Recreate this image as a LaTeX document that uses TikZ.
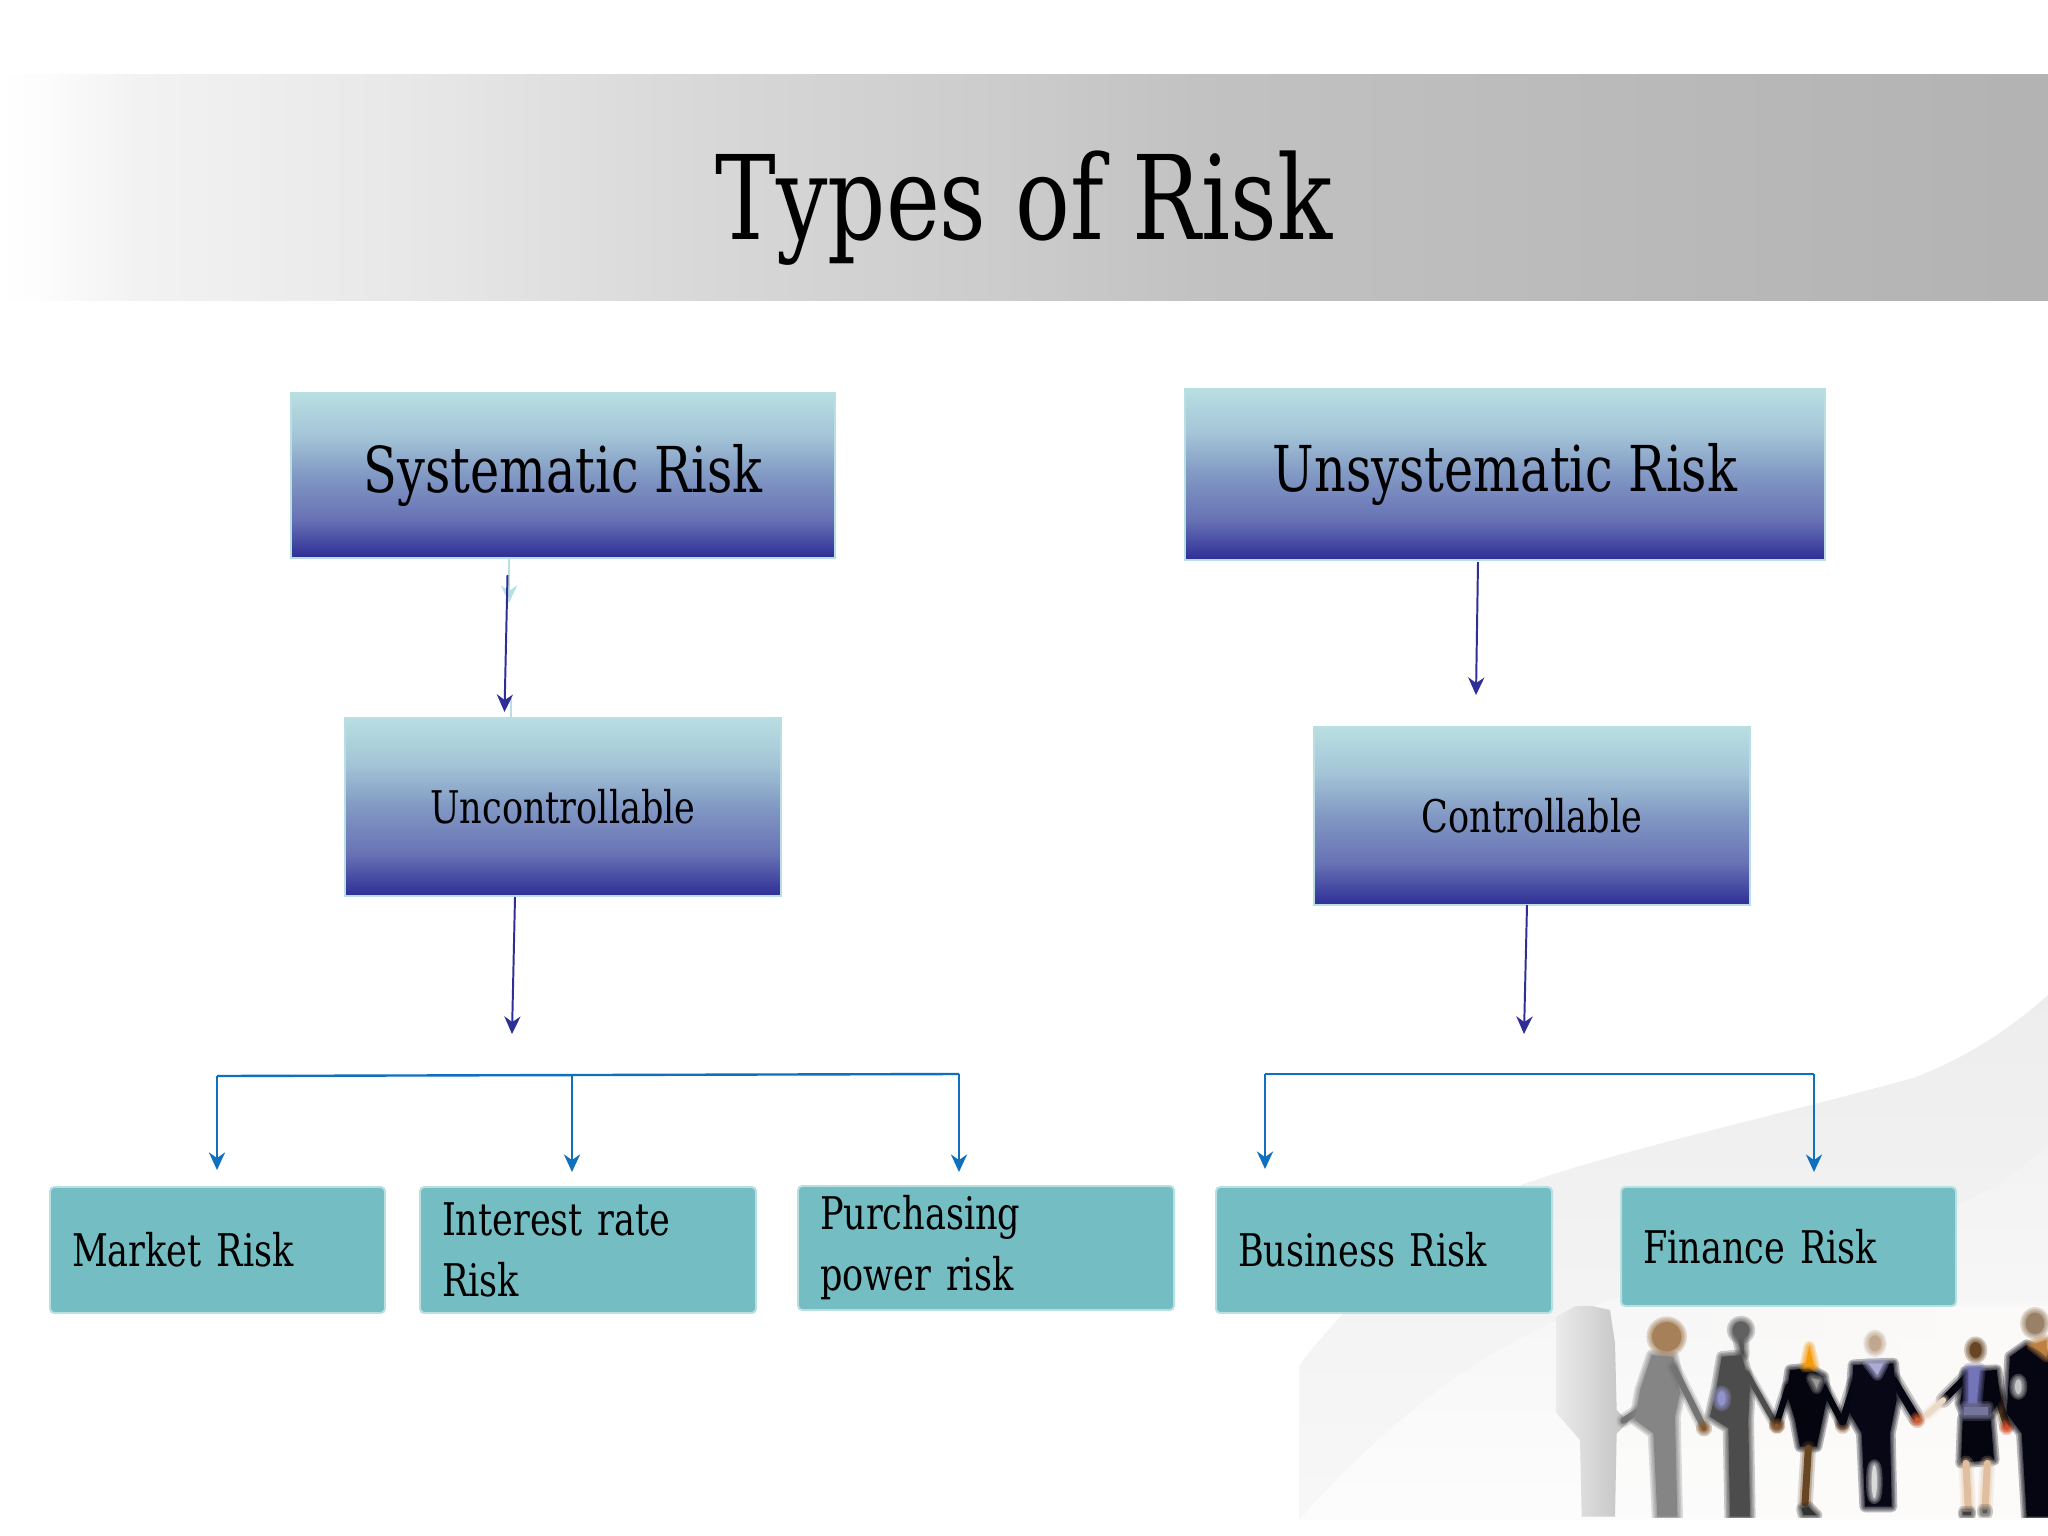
\documentclass[tikz,border=0pt]{standalone}
\usepackage{fontspec}
\setmainfont{DejaVu Serif}[FakeStretch=0.78]
\usetikzlibrary{arrows.meta,fadings}
\definecolor{navy}{HTML}{2E2E96}
\definecolor{busblue}{HTML}{1070BE}
\definecolor{paleedge}{HTML}{B8DFE2}
\definecolor{tealfill}{HTML}{74BDC3}
\pgfdeclarehorizontalshading{bandshade}{100bp}{
 color(0bp)=(white); color(25bp)=(white); color(26bp)=(white!99!black);
 color(28.3bp)=(white!95!black); color(34.8bp)=(white!91!black);
 color(41.7bp)=(white!85!black); color(49.4bp)=(white!80!black);
 color(54.3bp)=(white!76!black); color(64bp)=(white!73!black); color(75bp)=(white!70!black); color(100bp)=(white!70!black)}
\pgfdeclareverticalshading{boxshade}{100bp}{
 color(0bp)=(navy); color(25bp)=(navy); color(37bp)=(navy!70!paleedge!90!white); color(50bp)=(navy!40!paleedge);
 color(62bp)=(navy!15!paleedge); color(75bp)=(paleedge); color(100bp)=(paleedge)}
\tikzset{
 x=0.05cm,y=-0.05cm,
 bigbox/.style={shade,shading=boxshade,draw=paleedge,line width=2.8pt,inner sep=0pt,align=center},
 smallbox/.style={fill=tealfill,draw=paleedge,line width=2.8pt,rounded corners=6pt,inner sep=0pt,
   font=\fontsize{64}{87}\selectfont,align=left},
 navyarrow/.style={draw=navy,line width=2.8pt,-{Stealth[length=25pt,width=23pt,inset=8pt]}},
 palearrow/.style={draw=paleedge,line width=2.8pt,-{Stealth[length=25pt,width=23pt,inset=8pt]}},
 paleline/.style={draw=paleedge,line width=2.8pt},
 bluearrow/.style={draw=busblue,line width=2.8pt,-{Stealth[length=25pt,width=23pt,inset=8pt]}},
 bluebus/.style={draw=busblue,line width=3.4pt},
}
\newcommand{\softshape}[2]{%
 \foreach \w in {16,11,7,3}{\path[draw=#1,line width=\w pt,draw opacity=0.28,line join=round,line cap=round] #2;}%
 \path[fill=#1] #2;}
\newcommand{\softline}[3]{%
 \foreach \w/\o in {2.2/0.2,1.6/0.3,1/1}{\path[draw=#1,line width=\w*#3 pt,draw opacity=\o,line cap=round,line join=round] #2;}}
\begin{document}
\begin{tikzpicture}
\useasboundingbox (0,0) rectangle (2048,1536);
\fill[white] (0,0) rectangle (2048,1536);
% swooshes
\shade[top color=white!93!black,bottom color=white!97!black]
 (1299,1519) -- (1299,1366) .. controls (1340,1310) and (1440,1210) .. (1521,1185)
 .. controls (1620,1150) and (1760,1120) .. (1913,1078) .. controls (1975,1055) and (2020,1020) .. (2048,995)
 -- (2048,1519) -- cycle;
\shade[top color=white!95!black,bottom color=white!99!black]
 (1300,1519) .. controls (1380,1430) and (1480,1340) .. (1622,1296)
 .. controls (1750,1270) and (1950,1240) .. (2048,1145) -- (2048,1519) -- cycle;
% photograph
\begin{scope}
\clip (1556,1306) rectangle (2048,1517);
\fill[white!97!brown,path fading=east,fading transform={rotate=180}] (1600,1306) rectangle (2048,1517);
\begin{scope}[shift={(1560,1300)},x=0.05cm/3,y=-0.05cm/3]
\shade[left color=white!92!black,right color=white!76!black]
 (-10,50) -- (60,10) -- (150,30) -- (165,130) -- (170,330) -- (205,365) -- (170,400) -- (165,650) -- (65,650) -- (60,420) -- (-10,340) -- cycle;
% person 1
\softline{white!45!black}{(240,330) -- (190,362)}{9}
\softshape{white!52!black}{(275,165) -- (340,170) -- (360,280) -- (345,350) -- (352,650) -- (292,650) -- (280,400) -- (225,360) -- (240,270) -- cycle}
\softline{white!45!black}{(340,200) -- (428,375)}{9}
\softshape{brown!60!gray}{(320,110) circle (44)}
\softshape{brown!70!black}{(432,385) circle (8)}
% person 2
\softshape{white!35!black}{(543,160) -- (530,100) -- (550,90) -- (552,165) -- cycle}
\softshape{white!30!black}{(485,170) -- (545,165) -- (570,260) -- (565,360) -- (570,650) -- (510,650) -- (505,385) -- (450,350) -- (470,260) -- cycle}
\softline{white!30!black}{(560,220) -- (640,360)}{8}
\softshape{white!38!black}{(543,90) circle (26)}
\softshape{white!62!blue!60!gray}{(485,295) ellipse (12 and 22)}
\softshape{brown!70!black}{(652,375) circle (8)}
% person 3
\softline{navy!10!black}{(685,260) -- (650,370)}{9}
\softline{navy!10!black}{(790,260) -- (848,370)}{9}
\softshape{navy!10!black}{(690,210) -- (745,205) -- (790,230) -- (800,300) -- (770,440) -- (720,440) -- (705,360) -- (680,280) -- cycle}
\softshape{white!60!black}{(755,235) -- (780,240) -- (770,265) -- cycle}
\softshape{orange!75!yellow!85!brown}{(735,200) -- (748,140) -- (762,200) -- cycle}
\softline{brown!55!black}{(745,445) -- (735,610)}{10}
\softshape{black!80}{(725,625) -- (745,620) -- (770,645) -- (730,645) -- cycle}
\softshape{brown!70!black}{(650,378) circle (7)}
\softshape{brown!70!black}{(848,378) circle (7)}
% person 4
\softline{navy!12!black}{(885,250) -- (848,365)}{11}
\softline{navy!12!black}{(1000,240) -- (1068,352)}{11}
\softshape{navy!15!black}{(880,195) -- (1000,190) -- (1010,300) -- (990,400) -- (995,620) -- (915,620) -- (905,400) -- (870,340) -- cycle}
\softshape{white!60!navy}{(925,190) -- (970,190) -- (952,225) -- cycle}
\softshape{white!45!brown!70!gray}{(945,130) ellipse (18 and 24)}
\softshape{white!70!gray}{(943,545) ellipse (8 and 50)}
\softshape{brown!70!red}{(1072,360) circle (8)}
% person 5
\softline{brown!40!black}{(1310,280) -- (1340,375)}{10}
\softline{navy!10!black}{(1220,230) -- (1150,300)}{10}
\softline{white!70!brown}{(1150,300) -- (1100,345)}{8}
\softshape{navy!10!black}{(1215,215) -- (1310,210) -- (1322,300) -- (1290,345) -- (1215,345) -- (1200,310) -- cycle}
\softshape{navy!10!black}{(1208,355) -- (1292,355) -- (1302,480) -- (1203,488) -- cycle}
\softline{brown!50!white}{(1218,490) -- (1225,630)}{10}
\softline{brown!50!white}{(1282,490) -- (1275,630)}{10}
\softshape{white!40!blue!45!gray}{(1225,205) -- (1260,205) -- (1250,310) -- (1225,310) -- cycle}
\softshape{white!30!navy!50!gray}{(1212,320) rectangle (1285,345)}
\softshape{brown!55!black}{(1247,150) ellipse (18 and 24)}
\softshape{black!75}{(1210,635) rectangle (1232,645)}
\softshape{black!65}{(1268,630) rectangle (1282,640)}
\softshape{brown!60!red}{(1340,382) circle (7)}
% person 6
\softshape{navy!12!black}{(1350,170) -- (1400,135) -- (1470,170) -- (1470,650) -- (1400,650) -- (1385,400) -- (1340,340) -- cycle}
\softshape{brown!40!gray}{(1425,70) ellipse (28 and 32)}
\softshape{brown!60!orange!70!gray}{(1415,135) -- (1460,120) -- (1460,170) -- cycle}
\softshape{white!55!gray}{(1375,260) ellipse (10 and 22)}
\end{scope}
\end{scope}
% title band
\shade[shading=bandshade] (0,74.7) rectangle (2048,300.7);
\node[anchor=base,font=\fontsize{166}{190}\selectfont,inner sep=0pt] (title) at (1024,239) {Types of Risk};
% boxes
\node[bigbox,minimum width=544*0.05cm,minimum height=165*0.05cm,font=\fontsize{90}{100}\selectfont] (sys) at (563,475.5) {Systematic Risk};
\node[bigbox,minimum width=640*0.05cm,minimum height=171*0.05cm,font=\fontsize{90}{100}\selectfont] (unsys) at (1505,474.5) {Unsystematic Risk};
\node[bigbox,minimum width=436*0.05cm,minimum height=178*0.05cm,font=\fontsize{64}{80}\selectfont] (unc) at (563,807) {Uncontrollable};
\node[bigbox,minimum width=436*0.05cm,minimum height=178*0.05cm,font=\fontsize{64}{80}\selectfont] (con) at (1532,816) {Controllable};
\node[smallbox,minimum width=335*0.05cm,minimum height=126*0.05cm,text width=291*0.05cm] (market) at (217.5,1250) {Market Risk};
\node[smallbox,minimum width=336*0.05cm,minimum height=126*0.05cm,text width=292*0.05cm] (interest) at (588,1250) {Interest rate\\Risk};
\node[smallbox,minimum width=376*0.05cm,minimum height=124*0.05cm,text width=332*0.05cm] (purch) at (986,1248) {Purchasing\\power risk};
\node[smallbox,minimum width=336*0.05cm,minimum height=126*0.05cm,text width=292*0.05cm] (bus) at (1384,1250) {Business Risk};
\node[smallbox,minimum width=335*0.05cm,minimum height=119*0.05cm,text width=291*0.05cm] (fin) at (1788.5,1246.5) {Finance Risk};
% connector end points
\coordinate (p1a) at (509,558); \coordinate (p1b) at (509,603);
\coordinate (p2a) at (511,698); \coordinate (p2b) at (511,718);
\coordinate (s1) at (507.5,575); \coordinate (s2) at (504.5,712);
\coordinate (u1) at (1478,562); \coordinate (u2) at (1476,695);
\coordinate (c1) at (515,897); \coordinate (c2) at (512,1034);
\coordinate (d1) at (1527,905); \coordinate (d2) at (1524,1034);
\coordinate (b1) at (217,1076); \coordinate (b2) at (572,1075); \coordinate (b3) at (959,1074);
\coordinate (t1) at (217,1170); \coordinate (t2) at (572,1172); \coordinate (t3) at (959,1172);
\coordinate (e1) at (1265,1074); \coordinate (e2) at (1814,1074);
\coordinate (f1) at (1265,1169); \coordinate (f2) at (1814,1172);
\draw[palearrow] (p1a) -- (p1b);
\draw[paleline] (p2a) -- (p2b);
\draw[navyarrow] (s1) -- (s2);
\draw[navyarrow] (u1) -- (u2);
\draw[navyarrow] (c1) -- (c2);
\draw[navyarrow] (d1) -- (d2);
\draw[bluebus] (b1) -- (b3);
\draw[bluearrow] (b1) -- (t1);
\draw[bluearrow] (b2) -- (t2);
\draw[bluearrow] (b3) -- (t3);
\draw[bluebus] (e1) -- (e2);
\draw[bluearrow] (e1) -- (f1);
\draw[bluearrow] (e2) -- (f2);
\end{tikzpicture}
\end{document}
